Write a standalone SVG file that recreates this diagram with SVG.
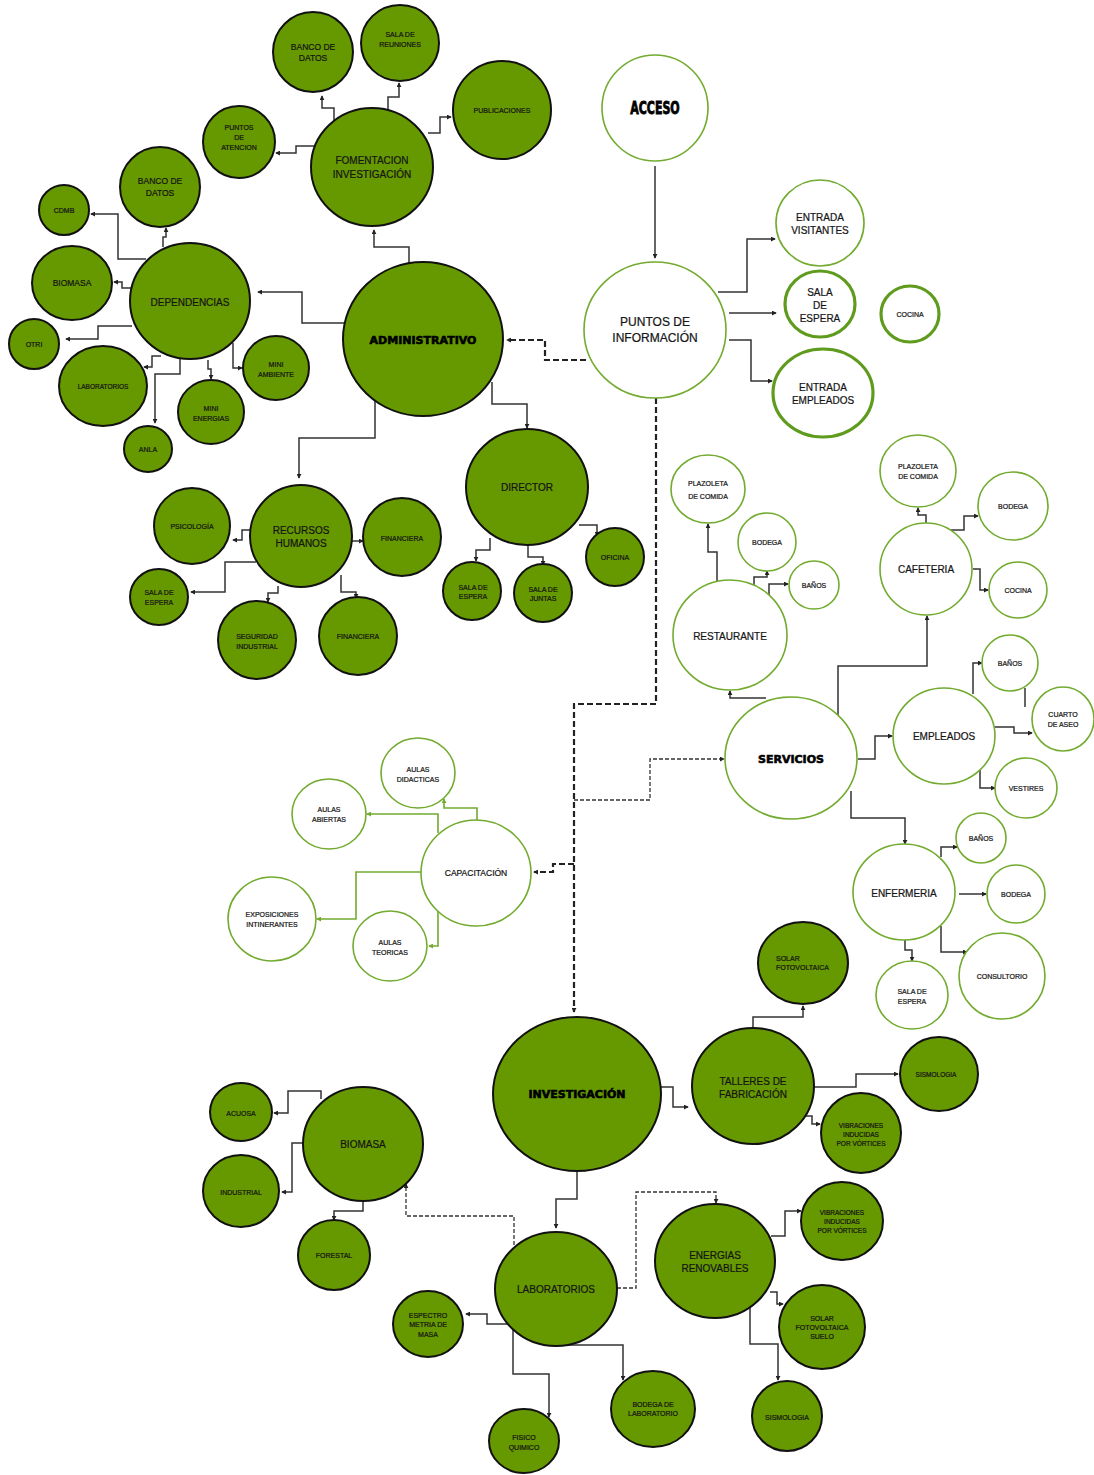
<svg xmlns="http://www.w3.org/2000/svg" width="1094" height="1475" viewBox="0 0 1094 1475">
  <defs>
    <style>
      .g { fill:#669900; stroke:#111; stroke-width:2; }
      .w { fill:#fff; stroke:#72ab2f; stroke-width:1.6; }
      .wt { fill:#fff; stroke:#5f9b1d; stroke-width:3.2; }
      text { font-family:"Liberation Sans", Arial, sans-serif; fill:#151515; stroke:#151515; stroke-width:0.22; text-anchor:middle; }
      .s { font-size:7px; }
      .xs { font-size:6.5px; }
      .sm { font-size:8.5px; }
      .m { font-size:10px; }
      .l { font-size:12px; }
      .h { font-family:"DejaVu Sans", sans-serif; font-weight:bold; font-size:11px; fill:#000; stroke:#000; stroke-width:0.6; }
      .c { fill:none; stroke:#333; stroke-width:1.5; marker-end:url(#a); }
      .n { fill:none; stroke:#333; stroke-width:1.5; }
      .cg { fill:none; stroke:#72ab2f; stroke-width:1.6; marker-end:url(#ag); }
      .d { fill:none; stroke:#222; stroke-width:2.2; stroke-dasharray:6 3; }
      .da { marker-end:url(#a); }
      .dt { fill:none; stroke:#333; stroke-width:1.3; stroke-dasharray:4 2; marker-end:url(#a); }
    </style>
    <marker id="a" viewBox="0 0 6 6" refX="5" refY="3" markerWidth="5" markerHeight="5" markerUnits="userSpaceOnUse" orient="auto">
      <path d="M0,0L6,3L0,6z" fill="#222"/>
    </marker>
    <marker id="ag" viewBox="0 0 6 6" refX="5" refY="3" markerWidth="5" markerHeight="5" markerUnits="userSpaceOnUse" orient="auto">
      <path d="M0,0L6,3L0,6z" fill="#72ab2f"/>
    </marker>
  </defs>
  <rect width="1094" height="1475" fill="#fff"/>

  <!-- connectors -->
  <g id="connectors">
    <!-- administrative branch -->
    <polyline class="c" points="334,122 334,108 322,108 322,96"/>
    <polyline class="c" points="388,110 388,97 399,97 399,83"/>
    <polyline class="c" points="428,133 440,133 440,117 451,117"/>
    <polyline class="c" points="314,146 296,146 296,153 276,153"/>
    <polyline class="c" points="409,263 409,247 374,247 374,230"/>
    <polyline class="c" points="344,323 302,323 302,292 258,292"/>
    <polyline class="c" points="375,400 375,438 299,438 299,478"/>
    <polyline class="c" points="492,382 492,404 527,404 527,428"/>
    <polyline class="d da" points="586,360 545,360 545,340 507,340"/>
    <!-- dependencias -->
    <polyline class="c" points="163,247 163,237 166,237 166,228"/>
    <polyline class="c" points="146,259 118,259 118,214 91,214"/>
    <polyline class="c" points="131,288 122,288 122,282 114,282"/>
    <polyline class="c" points="132,326 98,326 98,339 66,339"/>
    <polyline class="c" points="161,356 152,356 152,367 144,367"/>
    <polyline class="c" points="180,359 180,374 155,374 155,423"/>
    <polyline class="c" points="208,360 208,369 211,369 211,379"/>
    <polyline class="c" points="233,343 233,368 242,368"/>
    <!-- recursos humanos -->
    <polyline class="c" points="250,530 242,530 242,540 233,540"/>
    <polyline class="c" points="256,562 225,562 225,592 191,592"/>
    <polyline class="c" points="278,586 278,593 268,593 268,602"/>
    <polyline class="c" points="352,541 363,541"/>
    <polyline class="c" points="341,575 341,592 356,592 356,598"/>
    <!-- director -->
    <polyline class="c" points="490,538 490,550 476,550 476,561"/>
    <polyline class="c" points="528,545 528,557 543,557 543,565"/>
    <polyline class="c" points="579,525 597,525 597,536"/>
    <!-- acceso / puntos de informacion -->
    <polyline class="c" points="655,166 655,258"/>
    <polyline class="c" points="718,292 747,292 747,239 775,239"/>
    <polyline class="c" points="729,313 776,313"/>
    <polyline class="c" points="729,340 751,340 751,381 772,381"/>
    <polyline class="d da" points="656,398 656,704 574,704 574,1012"/>
    <polyline class="dt" points="574,800 650,800 650,759 724,759"/>
    <polyline class="d da" points="574,864 553,864 553,872 534,872"/>
    <!-- servicios -->
    <polyline class="c" points="766,698 730,698 730,691"/>
    <polyline class="c" points="717,582 717,552 708,552 708,524"/>
    <polyline class="c" points="754,585 754,577 767,577 767,571"/>
    <polyline class="c" points="769,597 769,584 788,584"/>
    <polyline class="c" points="838,716 838,666 927,666 927,616"/>
    <polyline class="c" points="926,523 926,515 918,515 918,508"/>
    <polyline class="c" points="950,530 964,530 964,516 978,516"/>
    <polyline class="c" points="973,569 980,569 980,590 988,590"/>
    <polyline class="c" points="858,759 875,759 875,736 892,736"/>
    <polyline class="c" points="851,791 851,818 905,818 905,844"/>
    <polyline class="c" points="973,694 973,663 982,663"/>
    <polyline class="n" points="1025,688 1025,707"/>
    <polyline class="c" points="995,727 1014,727 1014,733 1032,733"/>
    <polyline class="c" points="980,770 980,788 995,788"/>
    <polyline class="c" points="941,857 941,847 957,847"/>
    <polyline class="c" points="959,894 986,894"/>
    <polyline class="c" points="905,940 905,950 912,950 912,961"/>
    <polyline class="c" points="941,926 941,952 967,952"/>
    <!-- capacitacion -->
    <polyline class="cg" points="477,820 477,808 444,808 444,799"/>
    <polyline class="cg" points="438,833 438,814 367,814"/>
    <polyline class="cg" points="422,872 356,872 356,919 317,919"/>
    <polyline class="cg" points="438,910 438,946 429,946"/>
    <!-- investigacion -->
    <polyline class="c" points="661,1087 673,1087 673,1107 688,1107"/>
    <polyline class="c" points="753,1029 753,1017 803,1017 803,1006"/>
    <polyline class="c" points="813,1087 856,1087 856,1074 898,1074"/>
    <polyline class="c" points="806,1116 812,1116 812,1124 820,1124"/>
    <polyline class="c" points="577,1171 577,1199 556,1199 556,1228"/>
    <polyline class="dt" points="514,1245 514,1216 406,1216 406,1184"/>
    <polyline class="dt" points="617,1288 636,1288 636,1192 716,1192 716,1203"/>
    <polyline class="c" points="507,1324 487,1324 487,1314 466,1314"/>
    <polyline class="c" points="513,1330 513,1374 549,1374 549,1417"/>
    <polyline class="c" points="568,1345 623,1345 623,1380"/>
    <polyline class="c" points="321,1099 321,1091 288,1091 288,1113 274,1113"/>
    <polyline class="c" points="303,1143 292,1143 292,1192 282,1192"/>
    <polyline class="c" points="363,1201 363,1211 334,1211 334,1220"/>
    <polyline class="c" points="771,1236 785,1236 785,1211 801,1211"/>
    <polyline class="c" points="770,1292 777,1292 777,1304 783,1304"/>
    <polyline class="c" points="750,1308 750,1344 778,1344 778,1380"/>
  </g>

  <!-- administrative cluster -->
  <g id="banco-datos-1"><ellipse class="g" cx="313" cy="52" rx="40" ry="40"/><text class="sm" x="313" y="50">BANCO DE</text><text class="sm" x="313" y="61">DATOS</text></g>
  <g id="sala-reuniones"><ellipse class="g" cx="400" cy="43" rx="39" ry="38"/><text class="s" x="400" y="36.5">SALA DE</text><text class="s" x="400" y="46.5">REUNIONES</text></g>
  <g id="publicaciones"><ellipse class="g" cx="502" cy="110" rx="49" ry="49"/><text class="s" x="502" y="112.5">PUBLICACIONES</text></g>
  <g id="puntos-atencion"><ellipse class="g" cx="239" cy="142" rx="36" ry="36"/><text class="s" x="239" y="129.5">PUNTOS</text><text class="s" x="239" y="139.5">DE</text><text class="s" x="239" y="149.5">ATENCION</text></g>
  <g id="fomentacion"><ellipse class="g" cx="372" cy="167" rx="61" ry="59"/><text class="m" x="372" y="164">FOMENTACION</text><text class="m" x="372" y="178">INVESTIGACIÓN</text></g>
  <g id="banco-datos-2"><ellipse class="g" cx="160" cy="187" rx="40" ry="40"/><text class="sm" x="160" y="184">BANCO DE</text><text class="sm" x="160" y="196">DATOS</text></g>
  <g id="cdmb"><ellipse class="g" cx="64" cy="210" rx="25" ry="25"/><text class="s" x="64" y="212.5">CDMB</text></g>
  <g id="biomasa-dep"><ellipse class="g" cx="72" cy="283" rx="40" ry="37"/><text class="sm" x="72" y="286">BIOMASA</text></g>
  <g id="dependencias"><ellipse class="g" cx="190" cy="301" rx="60" ry="58"/><text class="m" x="190" y="305.5">DEPENDENCIAS</text></g>
  <g id="otri"><ellipse class="g" cx="34" cy="344" rx="25" ry="25"/><text class="s" x="34" y="346.5">OTRI</text></g>
  <g id="laboratorios-dep"><ellipse class="g" cx="103" cy="386" rx="44" ry="40"/><text class="xs" x="103" y="388.5">LABORATORIOS</text></g>
  <g id="mini-ambiente"><ellipse class="g" cx="276" cy="368" rx="33" ry="32"/><text class="s" x="276" y="366.5">MINI</text><text class="s" x="276" y="376.5">AMBIENTE</text></g>
  <g id="mini-energias"><ellipse class="g" cx="211" cy="412" rx="33" ry="32"/><text class="s" x="211" y="410.5">MINI</text><text class="s" x="211" y="420.5">ENERGIAS</text></g>
  <g id="anla"><ellipse class="g" cx="148" cy="449" rx="24" ry="23"/><text class="s" x="148" y="451.5">ANLA</text></g>
  <g id="administrativo"><ellipse class="g" cx="423" cy="339" rx="80" ry="77"/><text class="h" x="423" y="344">ADMINISTRATIVO</text></g>
  <g id="psicologia"><ellipse class="g" cx="192" cy="526" rx="38" ry="38"/><text class="s" x="192" y="528.5">PSICOLOGÍA</text></g>
  <g id="recursos-humanos"><ellipse class="g" cx="301" cy="536" rx="51" ry="51"/><text class="m" x="301" y="533.5">RECURSOS</text><text class="m" x="301" y="546.5">HUMANOS</text></g>
  <g id="financiera-1"><ellipse class="g" cx="402" cy="537" rx="39" ry="39"/><text class="s" x="402" y="540.5">FINANCIERA</text></g>
  <g id="sala-espera-rh"><ellipse class="g" cx="159" cy="597" rx="29" ry="28"/><text class="s" x="159" y="594.5">SALA DE</text><text class="s" x="159" y="604.5">ESPERA</text></g>
  <g id="seguridad-industrial"><ellipse class="g" cx="257" cy="640" rx="39" ry="39"/><text class="s" x="257" y="638.5">SEGURIDAD</text><text class="s" x="257" y="648.5">INDUSTRIAL</text></g>
  <g id="financiera-2"><ellipse class="g" cx="358" cy="636" rx="39" ry="39"/><text class="s" x="358" y="638.5">FINANCIERA</text></g>
  <g id="director"><ellipse class="g" cx="527" cy="487" rx="61" ry="58"/><text class="m" x="527" y="490.5">DIRECTOR</text></g>
  <g id="sala-espera-dir"><ellipse class="g" cx="472" cy="591" rx="29" ry="29"/><text class="s" x="473" y="589.5">SALA DE</text><text class="s" x="473" y="598.5">ESPERA</text></g>
  <g id="sala-juntas"><ellipse class="g" cx="543" cy="593" rx="29" ry="29"/><text class="s" x="543" y="591.5">SALA DE</text><text class="s" x="543" y="600.5">JUNTAS</text></g>
  <g id="oficina"><ellipse class="g" cx="615" cy="557" rx="29" ry="29"/><text class="s" x="615" y="559.5">OFICINA</text></g>

  <!-- access cluster -->
  <g id="acceso"><ellipse class="w" cx="655" cy="108" rx="53" ry="53"/><text class="h" transform="translate(655,114) scale(0.72,1)" x="0" y="0" style="font-family:'DejaVu Sans Condensed','DejaVu Sans',sans-serif;font-size:17px;stroke-width:0.8;">ACCESO</text></g>
  <g id="puntos-informacion"><ellipse class="w" cx="655" cy="330" rx="71" ry="68"/><text class="l" x="655" y="326">PUNTOS DE</text><text class="l" x="655" y="342">INFORMACIÓN</text></g>
  <g id="entrada-visitantes"><ellipse class="w" cx="820" cy="223" rx="44" ry="43"/><text class="m" x="820" y="220.5">ENTRADA</text><text class="m" x="820" y="233.5">VISITANTES</text></g>
  <g id="sala-espera-acc"><ellipse class="wt" cx="820" cy="304" rx="35" ry="33"/><text class="m" x="820" y="295.5">SALA</text><text class="m" x="820" y="308.5">DE</text><text class="m" x="820" y="321.5">ESPERA</text></g>
  <g id="cocina-acc"><ellipse class="wt" cx="910" cy="314" rx="29" ry="28"/><text class="s" x="910" y="316.5">COCINA</text></g>
  <g id="entrada-empleados"><ellipse class="wt" cx="823" cy="393" rx="50" ry="44"/><text class="m" x="823" y="390.5">ENTRADA</text><text class="m" x="823" y="403.5">EMPLEADOS</text></g>

  <!-- services cluster -->
  <g id="plazoleta-rest"><ellipse class="w" cx="708" cy="489" rx="37" ry="34"/><text class="s" x="708" y="485.5">PLAZOLETA</text><text class="s" x="708" y="498.5">DE COMIDA</text></g>
  <g id="bodega-rest"><ellipse class="w" cx="767" cy="542" rx="29" ry="29"/><text class="s" x="767" y="544.5">BODEGA</text></g>
  <g id="banos-rest"><ellipse class="w" cx="814" cy="585" rx="25" ry="24"/><text class="s" x="814" y="587.5">BAÑOS</text></g>
  <g id="restaurante"><ellipse class="w" cx="730" cy="635" rx="57" ry="55"/><text class="m" x="730" y="639.5">RESTAURANTE</text></g>
  <g id="plazoleta-caf"><ellipse class="w" cx="918" cy="471" rx="38" ry="36"/><text class="s" x="918" y="468.5">PLAZOLETA</text><text class="s" x="918" y="478.5">DE COMIDA</text></g>
  <g id="bodega-caf"><ellipse class="w" cx="1013" cy="506" rx="35" ry="34"/><text class="s" x="1013" y="508.5">BODEGA</text></g>
  <g id="cafeteria"><ellipse class="w" cx="926" cy="569" rx="46" ry="46"/><text class="m" x="926" y="572.5">CAFETERIA</text></g>
  <g id="cocina-caf"><ellipse class="w" cx="1018" cy="590" rx="29" ry="28"/><text class="s" x="1018" y="592.5">COCINA</text></g>
  <g id="servicios"><ellipse class="w" cx="791" cy="758" rx="66" ry="61"/><text class="h" x="791" y="763">SERVICIOS</text></g>
  <g id="empleados"><ellipse class="w" cx="944" cy="736" rx="51" ry="48"/><text class="m" x="944" y="739.5">EMPLEADOS</text></g>
  <g id="banos-emp"><ellipse class="w" cx="1010" cy="663" rx="28" ry="28"/><text class="s" x="1010" y="665.5">BAÑOS</text></g>
  <g id="cuarto-aseo"><ellipse class="w" cx="1063" cy="719" rx="31" ry="32"/><text class="s" x="1063" y="716.5">CUARTO</text><text class="s" x="1063" y="726.5">DE ASEO</text></g>
  <g id="vestires"><ellipse class="w" cx="1026" cy="788" rx="31" ry="30"/><text class="s" x="1026" y="790.5">VESTIRES</text></g>
  <g id="enfermeria"><ellipse class="w" cx="904" cy="892" rx="51" ry="48"/><text class="m" x="904" y="896.5">ENFERMERIA</text></g>
  <g id="banos-enf"><ellipse class="w" cx="981" cy="838" rx="25" ry="25"/><text class="s" x="981" y="840.5">BAÑOS</text></g>
  <g id="bodega-enf"><ellipse class="w" cx="1016" cy="894" rx="29" ry="29"/><text class="s" x="1016" y="896.5">BODEGA</text></g>
  <g id="sala-espera-enf"><ellipse class="w" cx="912" cy="995" rx="36" ry="34"/><text class="s" x="912" y="993.5">SALA DE</text><text class="s" x="912" y="1003.5">ESPERA</text></g>
  <g id="consultorio"><ellipse class="w" cx="1002" cy="976" rx="43" ry="43"/><text class="s" x="1002" y="978.5">CONSULTORIO</text></g>

  <!-- training cluster -->
  <g id="aulas-didacticas"><ellipse class="w" cx="418" cy="773" rx="37" ry="35"/><text class="s" x="418" y="771.5">AULAS</text><text class="s" x="418" y="781.5">DIDACTICAS</text></g>
  <g id="aulas-abiertas"><ellipse class="w" cx="329" cy="814" rx="37" ry="35"/><text class="s" x="329" y="811.5">AULAS</text><text class="s" x="329" y="821.5">ABIERTAS</text></g>
  <g id="capacitacion"><ellipse class="w" cx="476" cy="873" rx="55" ry="53"/><text class="sm" x="476" y="876">CAPACITACIÓN</text></g>
  <g id="exposiciones"><ellipse class="w" cx="272" cy="919" rx="44" ry="42"/><text class="s" x="272" y="916.5">EXPOSICIONES</text><text class="s" x="272" y="926.5">INTINERANTES</text></g>
  <g id="aulas-teoricas"><ellipse class="w" cx="390" cy="946" rx="37" ry="35"/><text class="s" x="390" y="944.5">AULAS</text><text class="s" x="390" y="954.5">TEORICAS</text></g>

  <!-- research cluster -->
  <g id="investigacion"><ellipse class="g" cx="577" cy="1094" rx="84" ry="77"/><text class="h" x="577" y="1098">INVESTIGACIÓN</text></g>
  <g id="solar-fv"><ellipse class="g" cx="803" cy="963" rx="45" ry="41"/><text class="s" x="776" y="960.5" style="text-anchor:start">SOLAR</text><text class="s" x="776" y="969.5" style="text-anchor:start">FOTOVOLTAICA</text></g>
  <g id="talleres"><ellipse class="g" cx="753" cy="1086" rx="61" ry="58"/><text class="m" x="753" y="1084.5">TALLERES DE</text><text class="m" x="753" y="1097.5">FABRICACIÓN</text></g>
  <g id="sismologia-tal"><ellipse class="g" cx="939" cy="1074" rx="39" ry="37"/><text class="xs" x="936" y="1076.5">SISMOLOGIA</text></g>
  <g id="vibraciones-tal"><ellipse class="g" cx="861" cy="1133" rx="40" ry="40"/><text class="xs" x="861" y="1127.5">VIBRACIONES</text><text class="xs" x="861" y="1136.5">INDUCIDAS</text><text class="xs" x="861" y="1145.5">POR VÓRTICES</text></g>
  <g id="biomasa-inv"><ellipse class="g" cx="363" cy="1144" rx="60" ry="57"/><text class="m" x="363" y="1147.5">BIOMASA</text></g>
  <g id="acuosa"><ellipse class="g" cx="241" cy="1112" rx="31" ry="29"/><text class="s" x="241" y="1115.5">ACUOSA</text></g>
  <g id="industrial"><ellipse class="g" cx="241" cy="1191" rx="38" ry="36"/><text class="s" x="241" y="1194.5">INDUSTRIAL</text></g>
  <g id="forestal"><ellipse class="g" cx="334" cy="1255" rx="36" ry="35"/><text class="s" x="334" y="1257.5">FORESTAL</text></g>
  <g id="laboratorios-inv"><ellipse class="g" cx="556" cy="1289" rx="61" ry="57"/><text class="m" x="556" y="1292.5">LABORATORIOS</text></g>
  <g id="espectrometria"><ellipse class="g" cx="428" cy="1324" rx="35" ry="33"/><text class="s" x="428" y="1317.5">ESPECTRO</text><text class="s" x="428" y="1326.5">METRIA DE</text><text class="s" x="428" y="1336.5">MASA</text></g>
  <g id="fisico-quimico"><ellipse class="g" cx="524" cy="1441" rx="35" ry="32"/><text class="s" x="524" y="1439.5">FISICO</text><text class="s" x="524" y="1449.5">QUIMICO</text></g>
  <g id="bodega-lab"><ellipse class="g" cx="653" cy="1409" rx="42" ry="38"/><text class="s" x="653" y="1406.5">BODEGA DE</text><text class="s" x="653" y="1415.5">LABORATORIO</text></g>
  <g id="energias"><ellipse class="g" cx="715" cy="1261" rx="60" ry="57"/><text class="m" x="715" y="1258.5">ENERGIAS</text><text class="m" x="715" y="1271.5">RENOVABLES</text></g>
  <g id="vibraciones-en"><ellipse class="g" cx="842" cy="1221" rx="41" ry="39"/><text class="xs" x="842" y="1214.5">VIBRACIONES</text><text class="xs" x="842" y="1223.5">INDUCIDAS</text><text class="xs" x="842" y="1232.5">POR VÓRTICES</text></g>
  <g id="solar-suelo"><ellipse class="g" cx="822" cy="1327" rx="43" ry="42"/><text class="s" x="822" y="1320.5">SOLAR</text><text class="s" x="822" y="1329.5">FOTOVOLTAICA</text><text class="s" x="822" y="1338.5">SUELO</text></g>
  <g id="sismologia-en"><ellipse class="g" cx="787" cy="1416" rx="35" ry="35"/><text class="s" x="787" y="1419.5">SISMOLOGIA</text></g>
</svg>
